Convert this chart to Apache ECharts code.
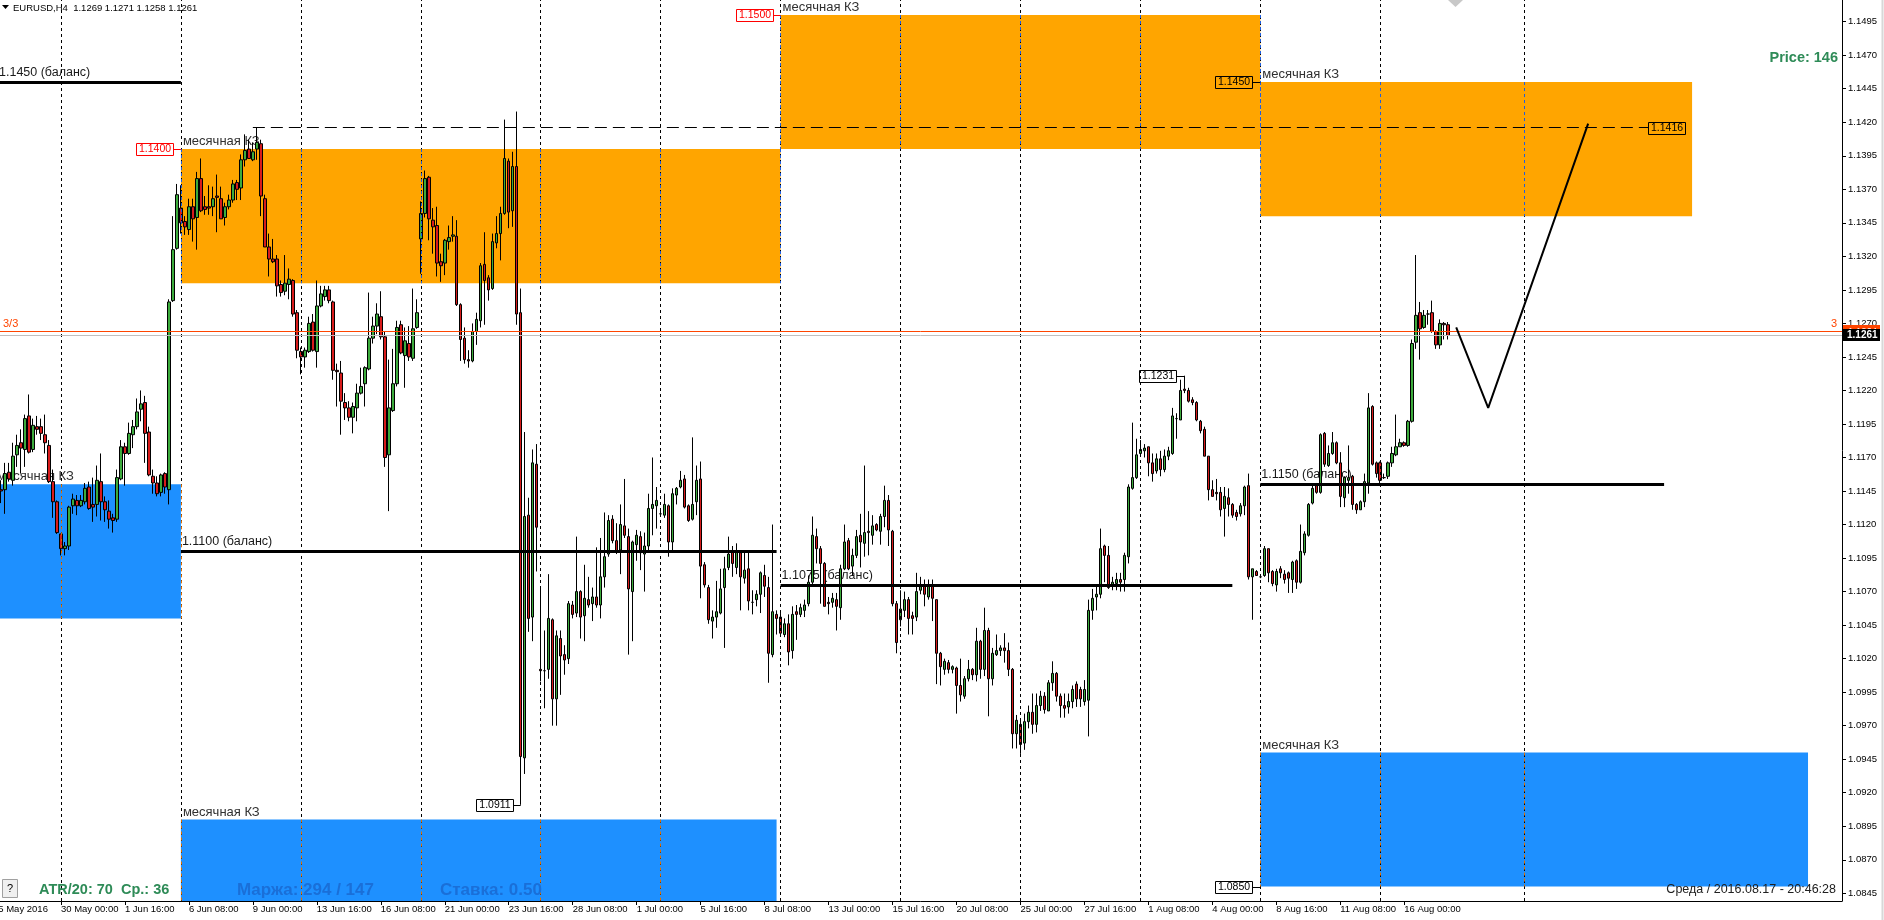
<!DOCTYPE html>
<html><head><meta charset="utf-8">
<script src="https://cdn.jsdelivr.net/npm/echarts@6/dist/echarts.min.js"></script>
<style>html,body{margin:0;padding:0;background:#fff;overflow:hidden}#c{width:1884px;height:920px}</style>
</head><body><div id="c"></div>
<script>
// ===== DATA (EURUSD H4, prices in pips = price x 10000) =====
// bar 0 = 25 May 2016 08:00, bar 362 = 17 Aug 2016 20:00
const openPips = [
11146,11146,11159,11153,11172,11181,11176,11201,11176,11193,
11193,11187,11179,11152,11137,11113,11102,11104,11134,11138,
11134,11137,11148,11135,11135,11152,11137,11130,11125,11124,
11154,11178,11173,11187,11193,11206,11211,11189,11156,11151,
11144,11158,11146,11287,11326,11356,11346,11340,11357,11349,
11378,11357,11357,11357,11365,11363,11349,11357,11362,11375,
11371,11392,11400,11392,11400,11404,11363,11327,11318,11318,
11299,11294,11299,11302,11278,11249,11245,11249,11271,11249,
11283,11290,11295,11286,11235,11233,11211,11207,11200,11207,
11218,11225,11236,11259,11268,11275,11260,11172,11205,11225,
11269,11246,11255,11244,11267,11333,11352,11379,11347,11343,
11316,11315,11331,11335,11335,11284,11259,11243,11242,11264,
11272,11314,11304,11296,11330,11337,11352,11391,11354,11387,
11278,10946,11127,11051,11165,11012,11011,11012,11049,10990,
11035,11023,11020,11060,11054,11070,11052,11064,11061,11066,
11060,11081,11098,11124,11108,11101,11119,11111,11070,11105,
11111,11098,11104,11132,11134,11128,11127,11134,11107,11142,
11148,11154,11134,11124,11137,11154,11090,11073,11048,11051,
11054,11073,11088,11100,11088,11099,11080,11087,11062,11064,
11068,11082,11073,11023,11053,11051,11038,11046,11026,11055,
11053,11056,11061,11077,11111,11102,11091,11062,11062,11064,
11058,11087,11108,11089,11097,11112,11106,11115,11112,11120,
11115,11126,11138,11115,11061,11049,11056,11064,11052,11051,
11071,11075,11066,11075,11064,11024,11012,11017,11012,11013,
11000,10992,11005,11012,11008,11033,11012,11041,11005,11023,
11026,11028,11026,11012,10964,10971,10957,10973,10980,10971,
10985,10992,10981,11002,11009,10992,10985,10984,10988,11001,
10997,10988,10989,11056,11066,11068,11104,11097,11074,11076,
11079,11079,11096,11147,11155,11173,11175,11178,11166,11160,
11169,11161,11171,11173,11199,11198,11221,11220,11213,11211,
11197,11191,11171,11146,11144,11144,11132,11140,11135,11129,
11128,11134,11149,11081,11085,11081,11082,11102,11085,11075,
11087,11083,11084,11079,11093,11077,11099,11112,11136,11149,
11144,11188,11164,11173,11181,11166,11140,11153,11156,11135,
11131,11137,11151,11208,11166,11166,11155,11156,11166,11172,
11178,11181,11179,11197,11256,11278,11267,11277,11278,11264,
11254,11270,11269];
const highPips = [
11153,11166,11166,11181,11187,11191,11202,11217,11199,11201,
11199,11202,11183,11161,11138,11113,11107,11134,11143,11142,
11142,11151,11152,11155,11164,11173,11141,11138,11128,11161,
11183,11181,11196,11198,11214,11220,11216,11193,11161,11156,
11158,11159,11288,11350,11374,11373,11350,11363,11363,11383,
11393,11365,11373,11372,11381,11372,11360,11366,11377,11377,
11396,11411,11407,11405,11416,11407,11366,11337,11333,11321,
11302,11321,11311,11303,11280,11252,11252,11275,11277,11302,
11298,11298,11298,11287,11240,11242,11218,11212,11211,11225,
11237,11238,11293,11275,11285,11294,11264,11243,11251,11272,
11272,11267,11268,11296,11288,11361,11384,11380,11356,11357,
11322,11333,11343,11350,11347,11285,11267,11250,11270,11278,
11315,11338,11306,11337,11350,11357,11422,11393,11398,11428,
11296,11189,11140,11176,11180,11073,11041,11083,11050,11041,
11041,11030,11063,11063,11111,11071,11090,11081,11073,11103,
11110,11129,11127,11127,11121,11135,11154,11117,11108,11116,
11115,11114,11143,11170,11148,11132,11143,11135,11147,11148,
11160,11157,11135,11185,11164,11167,11092,11075,11056,11078,
11087,11096,11111,11104,11106,11101,11100,11100,11071,11071,
11085,11090,11081,11120,11056,11054,11050,11053,11059,11060,
11061,11064,11082,11126,11117,11104,11092,11066,11069,11069,
11090,11120,11110,11102,11116,11128,11164,11130,11127,11121,
11128,11149,11142,11116,11063,11071,11070,11066,11055,11084,
11081,11079,11079,11079,11064,11025,11020,11019,11015,11014,
11020,11007,11019,11013,11043,11034,11058,11043,11028,11038,
11030,11039,11032,11013,10978,10974,10979,10985,10994,10994,
10996,10995,11004,11018,11010,10994,10994,10994,11000,11003,
10999,11004,11064,11072,11074,11117,11105,11104,11081,11084,
11084,11099,11150,11196,11184,11183,11180,11178,11173,11173,
11175,11176,11178,11207,11203,11228,11231,11222,11215,11212,
11198,11193,11171,11153,11154,11148,11148,11147,11136,11131,
11136,11149,11158,11087,11086,11082,11104,11102,11086,11087,
11089,11086,11085,11093,11094,11120,11115,11136,11150,11151,
11188,11189,11179,11189,11182,11174,11156,11179,11157,11136,
11138,11158,11218,11209,11167,11167,11158,11167,11178,11202,
11184,11182,11198,11258,11321,11286,11280,11280,11287,11265,
11273,11271,11271];
const lowPips = [
11136,11128,11152,11149,11163,11158,11163,11173,11174,11187,
11183,11173,11151,11125,11113,11097,11097,11101,11128,11127,
11133,11135,11131,11122,11126,11123,11122,11117,11114,11122,
11153,11149,11172,11177,11191,11197,11166,11156,11143,11141,
11141,11143,11135,11286,11325,11337,11336,11336,11331,11325,
11353,11351,11351,11350,11338,11348,11343,11355,11360,11362,
11362,11387,11393,11391,11392,11350,11327,11305,11315,11290,
11290,11291,11288,11275,11244,11232,11237,11248,11249,11237,
11282,11287,11285,11228,11208,11187,11198,11197,11188,11197,
11217,11208,11235,11255,11262,11258,11163,11130,11204,11223,
11247,11222,11242,11242,11266,11307,11349,11332,11322,11305,
11301,11306,11325,11331,11283,11242,11240,11237,11241,11254,
11267,11269,11287,11295,11326,11317,11351,11341,11342,11269,
10911,10934,11040,11033,11085,11003,10983,11005,10970,10970,
10993,11008,11016,11050,11051,11035,11033,11058,11048,11058,
11050,11073,11096,11106,11098,11083,11110,11023,11033,11093,
11086,11070,11100,11112,11117,11127,11125,11096,11101,11135,
11147,11132,11122,11123,11127,11065,11073,11046,11035,11043,
11053,11028,11086,11081,11083,11056,11076,11056,11053,11059,
11054,11066,11002,11021,11038,11038,11036,11015,11020,11034,
11051,11051,11059,11075,11091,11061,11059,11053,11058,11041,
11049,11086,11086,11082,11095,11088,11096,11097,11105,11115,
11105,11118,11104,11059,11024,11044,11051,11038,11038,11048,
11068,11059,11064,11048,11001,11000,11008,11009,11009,10979,
10988,10990,11003,11004,11003,11005,11007,10977,11000,11022,
11022,11017,11007,10953,10953,10949,10952,10968,10964,10965,
10981,10979,10981,10996,10988,10976,10976,10979,10983,10984,
10984,10985,10962,11049,11056,11065,11077,11072,11071,11071,
11070,11070,11091,11146,11154,11171,11170,11156,11152,11158,
11156,11159,11168,11172,11184,11198,11218,11211,11209,11197,
11188,11171,11138,11141,11138,11126,11111,11126,11125,11123,
11126,11127,11079,11049,11082,11080,11081,11077,11074,11070,
11080,11076,11069,11069,11072,11076,11097,11111,11135,11143,
11143,11163,11163,11172,11165,11133,11133,11143,11131,11128,
11131,11133,11143,11164,11155,11151,11154,11154,11163,11171,
11178,11178,11178,11196,11251,11243,11266,11269,11263,11251,
11251,11258,11258];
const closePips = [
11145,11158,11154,11171,11179,11177,11199,11174,11194,11191,
11188,11181,11152,11137,11114,11102,11104,11133,11139,11134,
11138,11147,11132,11133,11153,11137,11131,11124,11123,11155,
11178,11173,11188,11193,11204,11210,11188,11157,11151,11143,
11157,11148,11286,11325,11366,11345,11342,11357,11348,11378,
11354,11355,11356,11363,11364,11348,11357,11362,11374,11370,
11392,11399,11393,11398,11405,11365,11327,11318,11316,11298,
11293,11300,11303,11277,11250,11245,11250,11270,11250,11283,
11292,11295,11287,11235,11234,11212,11207,11200,11208,11218,
11223,11237,11259,11268,11277,11260,11170,11207,11225,11267,
11248,11257,11245,11266,11278,11352,11378,11348,11342,11315,
11313,11332,11334,11336,11284,11258,11243,11242,11264,11273,
11313,11302,11295,11331,11337,11352,11393,11353,11387,11277,
10947,11126,11050,11166,11118,11011,11011,11050,10990,11037,
11022,11019,11061,11053,11070,11051,11065,11060,11066,11060,
11081,11096,11123,11108,11100,11120,11112,11072,11107,11112,
11099,11104,11132,11135,11138,11128,11135,11107,11143,11147,
11153,11133,11123,11135,11153,11089,11075,11049,11051,11055,
11072,11087,11098,11091,11100,11081,11086,11063,11062,11068,
11084,11074,11024,11055,11050,11039,11046,11025,11053,11053,
11058,11060,11077,11112,11102,11091,11059,11061,11065,11059,
11087,11107,11087,11097,11111,11107,11114,11114,11119,11116,
11126,11138,11116,11061,11032,11057,11064,11050,11050,11070,
11074,11068,11075,11065,11024,11014,11018,11012,11014,11000,
10993,11005,11012,11008,11033,11012,11041,11005,11024,11026,
11028,11026,11012,10964,10974,10956,10973,10980,10971,10985,
10992,10982,11002,11009,10992,10985,10983,10988,10997,10990,
10990,10997,11056,11065,11068,11102,11097,11073,11077,11079,
11077,11097,11148,11155,11172,11176,11177,11166,11158,11169,
11161,11171,11175,11201,11199,11220,11220,11212,11211,11198,
11190,11171,11146,11141,11143,11131,11141,11135,11127,11126,
11134,11148,11081,11087,11082,11081,11102,11084,11076,11085,
11084,11079,11080,11092,11077,11100,11113,11135,11147,11144,
11187,11165,11173,11181,11166,11141,11155,11155,11135,11131,
11137,11152,11207,11165,11158,11153,11155,11166,11173,11178,
11181,11179,11197,11255,11276,11266,11276,11277,11264,11254,
11270,11269,11261];

// time axis tick labels (bar index -> text)
const xTickBars = [-2,15,31,47,63,79,95,111,127,143,159,175,191,207,223,239,255,271,287,303,319,335,351];
const xTickTexts = ['25 May 2016','30 May 00:00','1 Jun 16:00','6 Jun 08:00','9 Jun 00:00','13 Jun 16:00','16 Jun 08:00','21 Jun 00:00','23 Jun 16:00','28 Jun 08:00','1 Jul 00:00','5 Jul 16:00','8 Jul 08:00','13 Jul 00:00','15 Jul 16:00','20 Jul 08:00','25 Jul 00:00','27 Jul 16:00','1 Aug 08:00','4 Aug 00:00','8 Aug 16:00','11 Aug 08:00','16 Aug 00:00'];
// price axis ticks (pips)
const yTickValues = [10845,10870,10895,10920,10945,10970,10995,11020,11045,11070,11095,11120,11145,11170,11195,11220,11245,11270,11295,11320,11345,11370,11395,11420,11445,11470,11495];
// weekly separators (bar index)
const sepBars = [15,45,75,105,135,165,195,225,255,285,315,345,381];
// monthly zones "месячная КЗ"
const zoneFrom = [-2, 45, 315, 45, 195, 315];
const zoneTo   = [45, 194, 452, 195, 315, 423];
const zoneLow  = [11050, 10800, 10850, 11300, 11400, 11350];
const zoneHigh = [11150, 10900, 10950, 11400, 11500, 11450];
const zoneKind = ['blue','blue','blue','orange','orange','orange'];
// balance lines
const balPrice = [11450, 11100, 11075, 11150];
const balFrom  = [-2, 45, 195, 315];
const balTo    = [45, 194, 308, 416];
const balText  = ['1.1450 (баланс)','1.1100 (баланс)','1.1075 (баланс)','1.1150 (баланс)'];
// dashed level
const levelPrice = 11416, levelFrom = 63, levelTo = 412;
// projection path
const projBars = [364, 372, 397];
const projPrices = [11267, 11207, 11419];
// price labels
const tagText  = ['1.1400','1.1500','1.1450','1.0850','1.0911','1.1231'];
const tagBar   = [45, 195, 315, 315, 130, 296];
const tagPrice = [11400, 11500, 11450, 10850, 10911, 11231];
const tagRed   = [true, true, false, false, false, false];
const bidPrice = 11261, markPrice = 11264;

if (openPips.length!==363||highPips.length!==363||lowPips.length!==363||closePips.length!==363) throw new Error('len '+[openPips.length,highPips.length,lowPips.length,closePips.length]);

// ===== CHART =====
const FONT = '"Liberation Sans", Arial, sans-serif';
const NCAT = 463, Y_MIN = 10839.26, Y_MAX = 11511.18;
const K = b => b + 2;
const categories = Array.from({length: NCAT}, (_, k) => String(k));
const tickMap = {}; xTickBars.forEach((b, i) => tickMap[K(b)] = xTickTexts[i]);
const candleData = categories.map((_, k) => { const b = k - 2; return (b >= 0 && b < openPips.length) ? [openPips[b], closePips[b], lowPips[b], highPips[b]] : '-'; });
const COL = {blue: '#1e90ff', orange: '#ffa500'};
const XOR = {blue: '#e16f00', orange: '#1f5fe0'};

const zoneAreas = zoneFrom.map((f, i) => [
  {coord: [K(f), zoneHigh[i]], itemStyle: {color: COL[zoneKind[i]], opacity: 1}},
  {coord: [K(zoneTo[i]), Math.max(zoneLow[i], Y_MIN)]}
]);
const xorSegs = [];
zoneFrom.forEach((f, i) => sepBars.forEach(s => {
  if (s >= f && s <= zoneTo[i]) xorSegs.push([
    {coord: [K(s), zoneHigh[i]], lineStyle: {color: XOR[zoneKind[i]], type: [3, 3], width: 1}},
    {coord: [K(s), Math.max(zoneLow[i], Y_MIN)]}]);
}));
const levelLines = balPrice.map((p, i) => [
  {coord: [K(balFrom[i]), p], lineStyle: {color: '#000', width: 3, type: 'solid'}},
  {coord: [K(balTo[i]), p]}]);
levelLines.push([{coord: [K(levelFrom), levelPrice], lineStyle: {color: '#000', width: 1, type: [12, 6]}}, {coord: [K(levelTo), levelPrice]}]);
levelLines.push({yAxis: markPrice, lineStyle: {color: '#ff4500', width: 1, type: 'solid'}});
levelLines.push({yAxis: bidPrice, lineStyle: {color: '#c0c0c0', width: 1, type: 'solid'}});

const chart = echarts.init(document.getElementById('c'), null, {renderer: 'canvas', width: 1884, height: 920});
chart.setOption({
  animation: false,
  backgroundColor: '#ffffff',
  grid: {left: -9, right: 42, top: 0, bottom: 19, containLabel: false, outerBoundsMode: 'none'},
  xAxis: {
    type: 'category', data: categories, boundaryGap: true,
    axisLine: {show: true, lineStyle: {color: '#000', width: 1}},
    axisTick: {show: true, alignWithLabel: true, interval: (i) => (i in tickMap) && i > 0, length: 4, lineStyle: {color: '#000'}},
    axisLabel: {show: true, interval: (i) => (i in tickMap), formatter: (v, i) => tickMap[i] || '', align: 'left', margin: 3, color: '#000', fontSize: 9.5, fontFamily: FONT, hideOverlap: false},
    splitLine: {show: false}
  },
  yAxis: {
    type: 'value', position: 'right', min: Y_MIN, max: Y_MAX,
    axisLine: {show: true, lineStyle: {color: '#000', width: 1}},
    axisTick: {show: true, length: 4, customValues: yTickValues, lineStyle: {color: '#000'}},
    axisLabel: {show: true, customValues: yTickValues, formatter: v => (v / 10000).toFixed(4), margin: 6, color: '#000', fontSize: 9.5, fontFamily: FONT},
    splitLine: {show: false}
  },
  series: [
    {type: 'line', data: [], z: 1, silent: true,
     markLine: {silent: true, symbol: 'none', label: {show: false}, animation: false,
       lineStyle: {color: '#000', type: [3, 3], width: 1}, data: sepBars.map(b => ({xAxis: K(b)}))}},
    {type: 'line', data: [], z: 2, silent: true,
     markArea: {silent: true, label: {show: false}, animation: false, data: zoneAreas}},
    {type: 'line', data: [], z: 3, silent: true,
     markLine: {silent: true, symbol: 'none', label: {show: false}, animation: false, data: xorSegs}},
    {type: 'candlestick', data: candleData, z: 4, barWidth: 3, silent: true,
     itemStyle: {color: '#3cab3c', color0: '#d81c1c', borderColor: '#000', borderColor0: '#000', borderColorDoji: '#000', borderWidth: 1}},
    {type: 'line', data: [], z: 5, silent: true,
     markLine: {silent: true, symbol: 'none', label: {show: false}, animation: false, data: levelLines}},
    {type: 'line', z: 6, silent: true, symbol: 'none', data: projBars.map((b, i) => [K(b), projPrices[i]]),
     lineStyle: {color: '#000', width: 2}}
  ]
});

// ===== annotations positioned through the chart's scales =====
const P = (bar, price) => chart.convertToPixel({gridIndex: 0}, [K(bar), price]);
const pY = price => chart.convertToPixel({yAxisIndex: 0}, price);
function txt(text, x, y, size, color, o = {}) {
  return {type: 'text', x, y, z: o.z != null ? o.z : 20, silent: true,
    style: {text, fill: color, font: (o.weight || 'normal') + ' ' + size + 'px ' + FONT, align: o.align || 'left', verticalAlign: o.va || 'middle'}};
}
const G = [];
// header
G.push({type: 'polygon', z: 20, shape: {points: [[2, 5], [9, 5], [5.5, 9]]}, style: {fill: '#000'}});
G.push(txt('EURUSD,H4  1.1269 1.1271 1.1258 1.1261', 13, 8, 9.5, '#000'));
// balance labels (behind candles)
balPrice.forEach((p, i) => {
  const a = P(balFrom[i], p);
  const x = balFrom[i] < 0 ? -1 : a[0] + 1;
  G.push(txt(balText[i], x, a[1] - 3, 12.5, '#1a1a1a', {va: 'bottom', z: 3}));
});
// zone labels
zoneFrom.forEach((f, i) => {
  const a = P(f, zoneHigh[i]);
  const x = f < 0 ? -3 : a[0] + 2;
  G.push(txt('месячная КЗ', x, a[1] - 1, 13, '#303030', {va: 'bottom', z: 3}));
});
// price tag boxes
tagText.forEach((t, i) => {
  const a = P(tagBar[i], tagPrice[i]);
  const c = tagRed[i] ? '#ff0000' : '#000';
  const w = 37, xr = Math.round(a[0]) - 8, yc = Math.round(a[1]);
  G.push({type: 'line', z: 19, shape: {x1: xr, y1: yc + 0.5, x2: a[0], y2: yc + 0.5}, style: {stroke: c, lineWidth: 1}});
  G.push({type: 'rect', z: 19, shape: {x: xr - w + 0.5, y: yc - 6 + 0.5, width: w, height: 12}, style: {fill: null, stroke: c, lineWidth: 1}});
  G.push(txt(t, xr - w / 2 + 0.5, yc + 0.5, 10.5, c, {align: 'center'}));
});
// dashed level tag
{
  const a = P(levelTo, levelPrice); const xl = Math.round(a[0]), yc = Math.round(a[1]);
  G.push({type: 'rect', z: 19, shape: {x: xl + 0.5, y: yc - 6 + 0.5, width: 37, height: 12}, style: {fill: null, stroke: '#000', lineWidth: 1}});
  G.push(txt('1.1416', xl + 19, yc + 0.5, 10.5, '#000', {align: 'center'}));
}
// "3/3" line captions
{
  const y = pY(markPrice);
  G.push(txt('3/3', 3, y - 2, 11, '#ff4500', {va: 'bottom'}));
  G.push(txt('3', 1837, y - 2, 11, '#ff4500', {va: 'bottom', align: 'right'}));
}
// right axis price boxes
{
  const ym = Math.round(pY(markPrice)), yb = Math.round(pY(bidPrice));
  G.push({type: 'rect', z: 21, shape: {x: 1843, y: ym - 6, width: 37, height: 12}, style: {fill: '#ff4500'}});
  G.push(txt('1.1264', 1848, ym, 9.5, '#fff', {z: 22}));
  G.push({type: 'rect', z: 23, shape: {x: 1843, y: yb - 6, width: 37, height: 12}, style: {fill: '#000'}});
  G.push(txt('1.1261', 1847, yb, 10, '#fff', {z: 24, weight: 'bold'}));
}
// info texts
G.push(txt('Price: 146', 1838, 58, 14.5, '#2e8b57', {weight: 'bold', align: 'right'}));
G.push(txt('ATR/20: 70  Ср.: 36', 39, 890, 14.5, '#2e8b57', {weight: 'bold'}));
G.push(txt('Маржа: 294 / 147', 237, 890, 17, '#1a6fd8', {weight: 'bold'}));
G.push(txt('Ставка: 0.50', 440, 890, 17, '#1a6fd8', {weight: 'bold'}));
G.push(txt('Среда / 2016.08.17 - 20:46:28', 1836, 890, 12.5, '#202020', {align: 'right'}));
// "?" button
G.push({type: 'rect', z: 20, shape: {x: 2.5, y: 879.5, width: 15, height: 18}, style: {fill: '#f0f0f0', stroke: '#a0a0a0', lineWidth: 1}});
G.push(txt('?', 10, 889, 11, '#000', {align: 'center'}));
// chart-shift marker and window border
G.push({type: 'polygon', z: 20, shape: {points: [[1448, 0], [1463, 0], [1455.5, 7]]}, style: {fill: '#c8c8c8'}});
G.push({type: 'line', z: 20, shape: {x1: 1882.5, y1: 0, x2: 1882.5, y2: 920}, style: {stroke: '#d8d8d8', lineWidth: 2}});
chart.setOption({graphic: G});
</script>
</body></html>
